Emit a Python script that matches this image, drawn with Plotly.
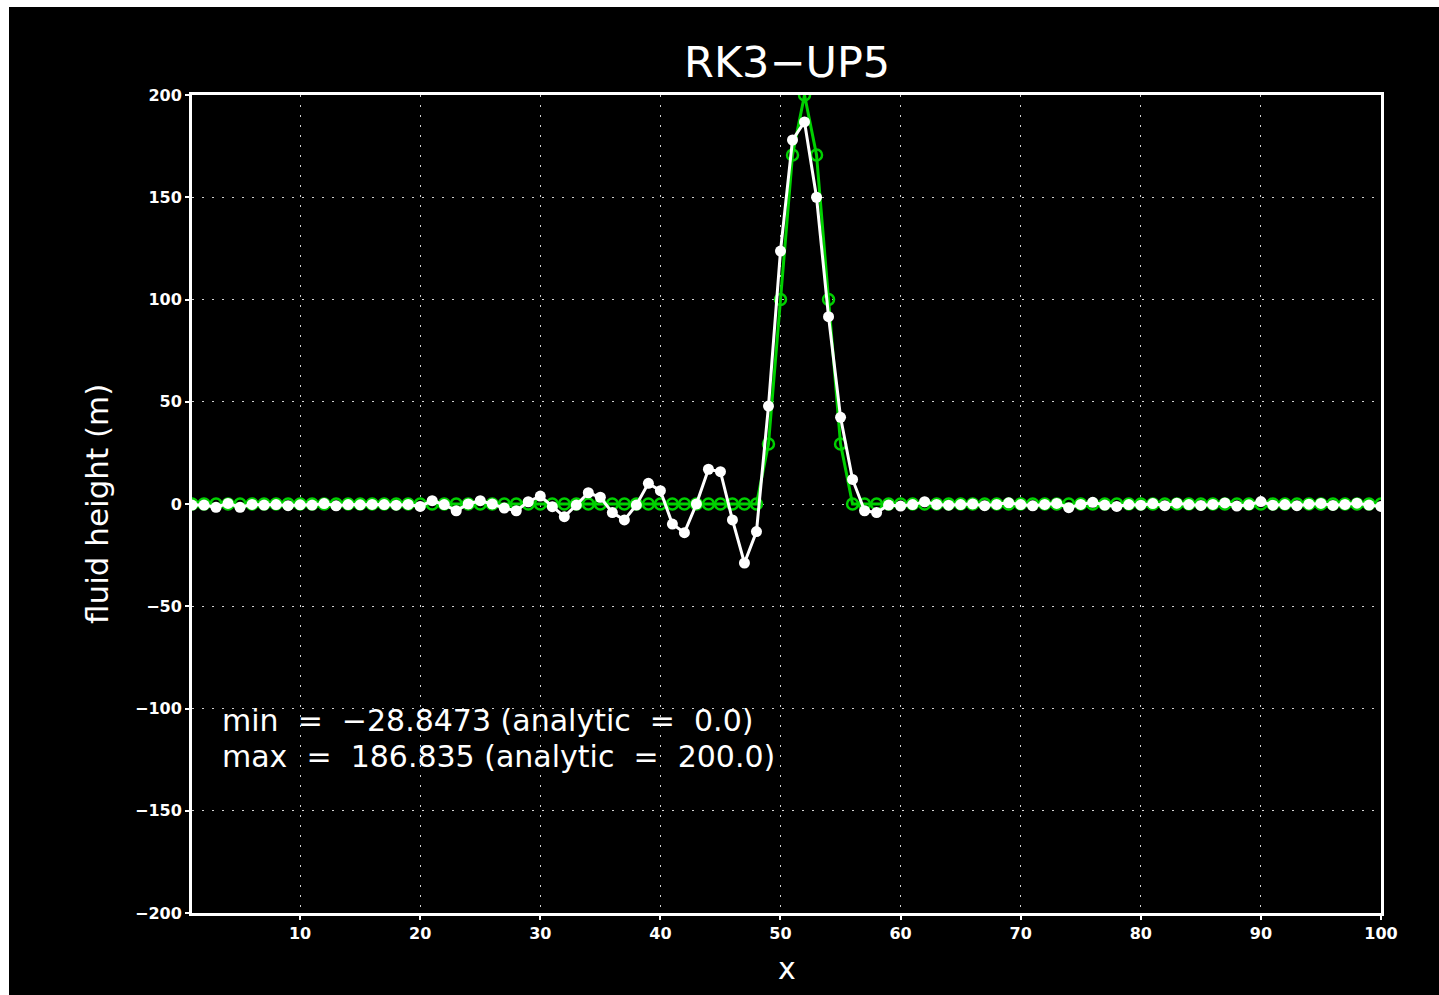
import plotly.graph_objects as go

x_vals = list(range(1, 101))

numerical = [
    -0.5, -0.5, -1.6, 0.3, -1.6, -0.2, -0.5, -0.3, -0.8, -0.4,
    -0.5, 0.2, -0.9, -0.3, -0.4, -0.2, -0.3, -0.6, -0.2, -1.2,
    1.6, -0.3, -3.3, 0.0, 1.6,
    0.0, -2.0, -3.3, 1.1, 3.9, -1.3, -6.2, -0.5, 5.5, 3.3,
    -4.2, -7.8, -0.5, 10.1, 6.5, -9.8, -14.0, 0.0, 17.0, 15.8,
    -7.8, -28.8473, -13.5,
    47.9, 123.7, 178.0, 186.835, 150.0, 91.6, 42.4, 12.0, -3.3, -4.2,
    -0.5, -1.0, -0.3, 1.1, -0.2, -0.6, -0.3, 0.0, -0.8, -0.2,
    0.6, -0.3, -0.9, -0.2, 0.3, -1.8, -0.2, 0.8, -0.5, -1.2,
    -0.3, -0.6, 0.2, -0.8, 0.4, -0.3, -0.7, -0.2, 0.5, -1.0,
    -0.4, 1.2, -0.6, -0.3, -0.8, -0.1, 0.3, -0.7, -0.2, 0.4,
    -0.5, -1.2,
]

analytic = [0.0] * 48 + [29.3, 100.0, 170.7, 200.0, 170.7, 100.0, 29.3] + [0.0] * 45

x_ticks = [10, 20, 30, 40, 50, 60, 70, 80, 90, 100]
y_ticks = [-200, -150, -100, -50, 0, 50, 100, 150, 200]

title_text = "RK3\u2212UP5"
ylabel_text = "fluid height (m)"
xlabel_text = "x"
NB = "\u00a0"
stat_lines = [
    f"min{NB}{NB}={NB}{NB}\u221228.8473 (analytic{NB}{NB}={NB}{NB}0.0)",
    f"max{NB}{NB}={NB}{NB}186.835 (analytic{NB}{NB}={NB}{NB}200.0)",
]

W, H = 1439, 995
L, R, T, B = 192, 58, 95, 82
pw, ph = W - L - R, H - T - B

def px(p):
    return (p - L) / pw

def py(p):
    return 1 - (p - T) / ph

fig = go.Figure()
fig.add_trace(go.Scatter(
    x=x_vals, y=analytic, mode="lines+markers",
    line=dict(color="#00d000", width=3),
    marker=dict(symbol="circle-open", size=11, color="#00d000", line=dict(width=2.5, color="#00d000")),
    showlegend=False,
))
fig.add_trace(go.Scatter(
    x=x_vals, y=numerical, mode="lines+markers",
    line=dict(color="white", width=3),
    marker=dict(symbol="circle", size=11, color="white"),
    showlegend=False,
))

axis_common = dict(
    showline=True, linecolor="white", linewidth=3, mirror=True,
    showgrid=True, gridcolor="#d0d0d0", gridwidth=1, griddash="2px,8px",
    zeroline=False, ticks="outside", ticklen=4, tickcolor="white", tickwidth=2,
    tickfont=dict(family="DejaVu Sans", size=16, color="white", weight="bold"),
)

fig.update_xaxes(range=[1, 100], tickvals=x_ticks, ticktext=[str(v) for v in x_ticks], **axis_common)
fig.update_yaxes(range=[-200, 200], tickvals=y_ticks, **axis_common)

annotations = [
    dict(text=title_text, x=px(787), y=py(62), xref="paper", yref="paper",
         showarrow=False, font=dict(family="DejaVu Sans", size=43, color="white"),
         xanchor="center", yanchor="middle"),
    dict(text=ylabel_text, x=px(97), y=py(504), xref="paper", yref="paper",
         showarrow=False, textangle=-90, font=dict(family="DejaVu Sans", size=31, color="white"),
         xanchor="center", yanchor="middle"),
    dict(text=xlabel_text, x=px(787), y=py(968), xref="paper", yref="paper",
         showarrow=False, font=dict(family="DejaVu Sans", size=30, color="white"),
         xanchor="center", yanchor="middle"),
]
for i, s in enumerate(stat_lines):
    annotations.append(dict(
        text=s, x=px(220), y=py(720 + 36 * i), xref="paper", yref="paper",
        showarrow=False, font=dict(family="DejaVu Sans", size=30, color="white"),
        xanchor="left", yanchor="middle"))

shapes = [
    dict(type="rect", xref="paper", yref="paper", x0=px(0), x1=px(9), y0=py(995), y1=py(0),
         fillcolor="white", line=dict(width=0), layer="above"),
    dict(type="rect", xref="paper", yref="paper", x0=px(0), x1=px(1439), y0=py(7), y1=py(0),
         fillcolor="white", line=dict(width=0), layer="above"),
]

fig.update_layout(
    width=W, height=H,
    margin=dict(l=L, r=R, t=T, b=B),
    paper_bgcolor="black", plot_bgcolor="black",
    annotations=annotations, shapes=shapes,
    showlegend=False,
)

fig.write_html("out.html")
